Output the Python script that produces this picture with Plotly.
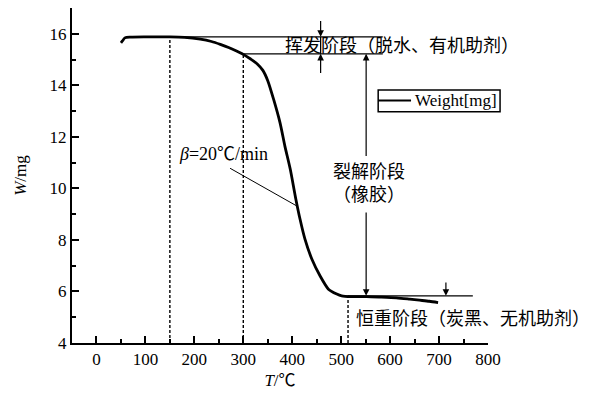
import plotly.graph_objects as go

# ---- data ----
temp_c = [50, 53, 58, 70, 100, 150, 180, 212, 235, 253, 270, 285, 300, 315,
          328, 340, 350, 362, 375, 385, 396, 407, 416, 426, 440, 457, 474, 491,
          501, 520, 552, 580, 613, 640, 660, 680, 698]
weight_mg = [15.65, 15.72, 15.84, 15.87, 15.88, 15.88, 15.86, 15.79, 15.70,
             15.59, 15.47, 15.34, 15.20, 15.02, 14.84, 14.58, 14.18, 13.45, 12.55,
             11.64, 10.74, 9.62, 8.80, 8.03, 7.26, 6.60, 6.09, 5.90, 5.83,
             5.80, 5.80, 5.78, 5.75, 5.70, 5.66, 5.62, 5.57]

x_ticks = [0, 100, 200, 300, 400, 500, 600, 700, 800]
y_ticks = [4, 6, 8, 10, 12, 14, 16]
series_name = "Weight[mg]"

# stage boundaries
w_start_plateau = 15.88
w_after_volatile = 15.22
w_residue = 5.83
t_dash = [150, 300, 514]

SERIF = '"Liberation Serif", "Noto Sans CJK SC", serif'

fig = go.Figure()
fig.add_trace(go.Scatter(
    x=temp_c, y=weight_mg, mode="lines", name=series_name,
    line=dict(color="black", width=2.8, shape="spline", smoothing=0.7),
    showlegend=False,
))

thin = dict(color="black", width=1.3)
dash = dict(color="black", width=1.4, dash="3px,2px")
shapes = [
    # horizontal guide lines
    dict(type="line", x0=80, x1=585, y0=w_start_plateau, y1=w_start_plateau, line=thin),
    dict(type="line", x0=t_dash[1], x1=585, y0=w_after_volatile, y1=w_after_volatile, line=thin),
    dict(type="line", x0=t_dash[2], x1=769, y0=w_residue, y1=w_residue, line=thin),
    # vertical line through volatile stage band
    dict(type="line", x0=458, x1=458, y0=w_after_volatile, y1=w_start_plateau, line=thin),
    # dashed verticals
    dict(type="line", x0=t_dash[0], x1=t_dash[0], y0=4, y1=w_start_plateau, line=dash),
    dict(type="line", x0=t_dash[1], x1=t_dash[1], y0=4, y1=w_after_volatile, line=dash),
    dict(type="line", x0=t_dash[2], x1=t_dash[2], y0=4, y1=w_residue, line=dash),
    # pointer for heating rate label
    dict(type="line", x0=273, x1=410, y0=10.78, y1=9.31, line=dict(color="black", width=1)),
    # legend box and its line sample
    dict(type="rect", xref="paper", yref="paper", x0=0.736, x1=1.029, y0=0.690, y1=0.755,
         line=dict(color="black", width=1.5), fillcolor="white", layer="above"),
    dict(type="line", xref="paper", yref="paper", x0=0.736, x1=0.815, y0=0.724, y1=0.724,
         line=dict(color="black", width=2), layer="above"),
]

def arrow(x, y_head, y_tail):
    return dict(x=x, y=y_head, ax=x, ay=y_tail, xref="x", yref="y",
                axref="x", ayref="y", text="", showarrow=True,
                arrowhead=2, arrowsize=1.1, arrowwidth=1.2, arrowcolor="black",
                standoff=0, startstandoff=0)

annotations = [
    arrow(458, w_start_plateau, 16.55),
    arrow(458, w_after_volatile, 14.42),
    arrow(551, w_after_volatile, 11.2),
    arrow(551, w_residue, 9.12),
    arrow(714, w_residue, 6.41),
    dict(x=381, y=15.53, xref="x", yref="y", text="挥发阶段（脱水、有机助剂）",
         showarrow=False, xanchor="left", yanchor="middle",
         font=dict(size=18, family=SERIF, color="black")),
    dict(x=557, y=10.2, xref="x", yref="y", text="裂解阶段<br>（橡胶）",
         showarrow=False, xanchor="center", yanchor="middle",
         font=dict(size=18, family=SERIF, color="black")),
    dict(x=526, y=4.93, xref="x", yref="y", text="恒重阶段（炭黑、无机助剂）",
         showarrow=False, xanchor="left", yanchor="middle",
         font=dict(size=18, family=SERIF, color="black")),
    dict(x=164, y=11.32, xref="x", yref="y", text="<i>β</i>=20℃/min",
         showarrow=False, xanchor="left", yanchor="middle",
         font=dict(size=18, family=SERIF, color="black")),
    # legend label
    dict(x=0.82, y=0.724, xref="paper", yref="paper", text=series_name,
         showarrow=False, xanchor="left", yanchor="middle",
         font=dict(size=17, family=SERIF, color="black")),
]

axis_common = dict(
    showline=True, linecolor="black", linewidth=2, mirror=False,
    ticks="inside", ticklen=7, tickwidth=1.5, tickcolor="black",
    showgrid=False, zeroline=False,
    tickfont=dict(size=17, family=SERIF, color="black"),
    title_font=dict(size=17, family=SERIF, color="black"),
)

fig.update_layout(
    width=600, height=394,
    margin=dict(l=72, r=112, t=8, b=51),
    paper_bgcolor="white", plot_bgcolor="white",
    font=dict(family=SERIF, color="black"),
    shapes=shapes, annotations=annotations,
    showlegend=False,
    xaxis=dict(range=[-50, 800], tickvals=x_ticks,
               minor=dict(dtick=50, tick0=0, ticks="inside", ticklen=4, tickcolor="black"),
               title=dict(text="<i>T</i>/℃", standoff=6), **axis_common),
    yaxis=dict(range=[4, 17], tickvals=y_ticks,
               minor=dict(dtick=1, tick0=0, ticks="inside", ticklen=4, tickcolor="black"),
               title=dict(text="<i>W</i>/mg", standoff=19), **axis_common),
)

fig.write_html("out.html")
